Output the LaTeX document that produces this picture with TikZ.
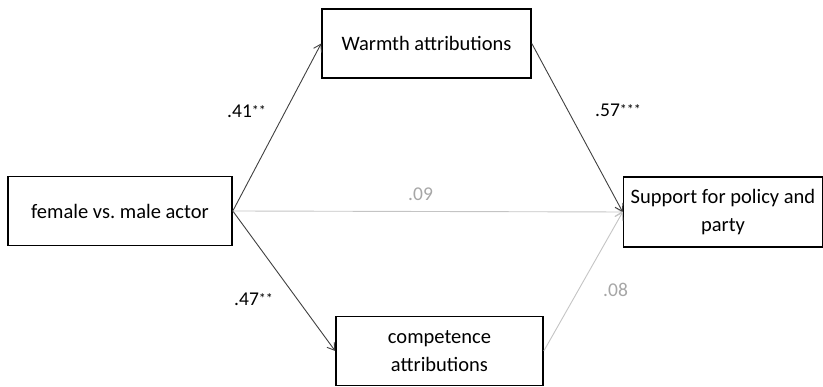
\documentclass[tikz,border=0pt]{standalone}
\usepackage{fontspec}
\setmainfont{Carlito}
\usetikzlibrary{arrows.meta}

\definecolor{linkgray}{HTML}{404040}
\definecolor{weakgray}{HTML}{C4C4C4}
\definecolor{weaktext}{HTML}{A6A6A6}

\newcommand{\stars}[1]{\raisebox{2pt}{\fontsize{14}{14}\selectfont #1}}

\begin{document}
\frenchspacing
\begin{tikzpicture}[
    x=1pt, y=1pt,
    box/.style={draw, line width=1.6pt, align=center, inner sep=0pt,
        font=\fontsize{20.5}{28}\selectfont},
    link/.style={draw=linkgray, line width=0.9pt, -{Straight Barb[length=7pt, width=9pt]}},
    weak/.style={link, draw=weakgray},
    coef/.style={anchor=base west, inner sep=0pt, font=\fontsize{19.5}{19.5}\selectfont},
]
\useasboundingbox (0, 0) rectangle (823, 387);

\node[box, minimum width=224, minimum height=69] (actor) at (120, 176) {female vs. male actor};
\node[box, minimum width=209, minimum height=69] (warmth) at (426.5, 343.5) {Warmth attributions};
\node[box, minimum width=199, minimum height=70] (support) at (723, 175) {Support for policy and\\party};
\node[box, minimum width=207, minimum height=69] (competence) at (439.5, 36) {competence\\attributions};

\draw[link] (actor.east) -- (warmth.west);
\draw[link] (actor.east) -- (competence.west);
\draw[weak] (actor.east) -- (support.west);
\draw[link] (warmth.east) -- (support.west);
\draw[weak] (competence.east) -- (support.west);

\node[coef] (c41) at (227, 269) {.41\stars{**}};
\node[coef] (c57) at (595, 270) {.57\stars{***}};
\node[coef] (c47) at (234, 81) {.47\stars{**}};
\node[coef, text=weaktext] (c09) at (408, 186) {.09};
\node[coef, text=weaktext] (c08) at (603, 90) {.08};
\end{tikzpicture}
\end{document}
